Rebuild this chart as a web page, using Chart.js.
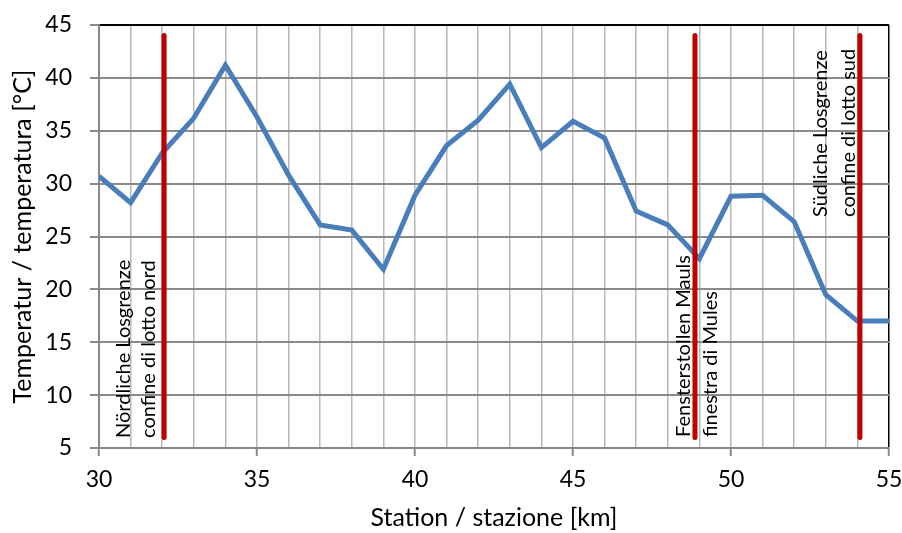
<!DOCTYPE html>
<html>
<head>
<meta charset="utf-8">
<script src="https://cdn.jsdelivr.net/npm/chart.js@4"></script>
<style>
  html, body { margin: 0; padding: 0; background: #fff; }
  #wrap { width: 902px; height: 533px; }
</style>
</head>
<body>
<div id="wrap"><canvas id="myChart" width="902" height="533"></canvas></div>
<script>
// station [km] and temperature [°C]
var stations = [30, 31, 32, 33, 34, 35, 36, 37, 38, 39, 40, 41, 42, 43, 44, 45, 46, 47, 48, 49, 50, 51, 52, 53, 54, 55, 56];
var temps = [30.7, 28.2, 32.9, 36.2, 41.2, 36.3, 30.8, 26.1, 25.6, 21.9, 28.9, 33.6, 36.0, 39.4, 33.4, 35.9, 34.3, 27.4, 26.1, 22.9, 28.8, 28.9, 26.4, 19.5, 17.0, 17.0, 5.0];

// red marker lines (km) with their labels
var markerKm = [32.06, 48.86, 54.08];
var markerFrom = 6;
var markerTo = 44;
var markerLabels = [
    ["Nördliche Losgrenze", "confine di lotto nord"],
    ["Fensterstollen Mauls", "finestra di Mules"],
    ["Südliche Losgrenze", "confine di lotto sud"]
];

var xTicks = [30, 35, 40, 45, 50, 55];
var yTicks = [5, 10, 15, 20, 25, 30, 35, 40, 45];

var FONT = 'Lato, "Liberation Sans", sans-serif';
Chart.defaults.font.family = FONT;
Chart.defaults.color = '#000';

var datasets = [];
for (var i = 0; i < markerKm.length; i++) {
    datasets.push({
        data: [{x: markerKm[i], y: markerFrom}, {x: markerKm[i], y: markerTo}],
        borderColor: '#c00000',
        borderWidth: 5,
        borderCapStyle: 'round',
        pointRadius: 0,
        order: 0
    });
}
datasets.push({
    data: stations.map(function (s, i) { return {x: s, y: temps[i]}; }),
    borderColor: '#4a7ebb',
    borderWidth: 5,
    borderJoinStyle: 'miter',
    pointRadius: 0,
    tension: 0,
    clip: {left: 0, top: 3, right: 3, bottom: 0},
    order: 1
});

// label offsets in px from the red line: [line1 baseline, line2 baseline], bottom value
var labelPos = [
    {dx: [-34, -9], y: 5.95},
    {dx: [-5, 22], y: 6.05},
    {dx: [-33, -5], y: 26.85}
];

var markerText = {
    id: 'markerText',
    afterDatasetsDraw: function (chart) {
        var c = chart.ctx;
        var xs = chart.scales.x, ys = chart.scales.y;
        c.save();
        c.font = '20px ' + FONT;
        c.fillStyle = '#000';
        c.textAlign = 'left';
        c.textBaseline = 'alphabetic';
        for (var i = 0; i < markerKm.length; i++) {
            var px = xs.getPixelForValue(markerKm[i]);
            var py = ys.getPixelForValue(labelPos[i].y);
            for (var j = 0; j < 2; j++) {
                c.save();
                c.translate(px + labelPos[i].dx[j], py);
                c.rotate(-Math.PI / 2);
                c.fillText(markerLabels[i][j], 0, 0);
                c.restore();
            }
        }
        c.restore();
    }
};

var ctx = document.getElementById("myChart").getContext("2d");
var myChart = new Chart(ctx, {
    type: 'line',
    data: { datasets: datasets },
    plugins: [markerText],
    options: {
        responsive: false,
        animation: false,
        events: [],
        layout: { padding: { top: 25, right: 13, left: 0, bottom: 0 } },
        plugins: { legend: { display: false }, tooltip: { enabled: false } },
        scales: {
            x: {
                type: 'linear',
                min: 30,
                max: 55,
                afterFit: function (s) {
                    s.height = 85;
                    s.paddingLeft = 0;
                    s.paddingRight = 0;
                },
                afterBuildTicks: function (s) {
                    var t = [];
                    for (var v = 30; v <= 55; v++) t.push({value: v});
                    s.ticks = t;
                },
                ticks: {
                    autoSkip: false,
                    maxRotation: 0,
                    padding: 10,
                    font: { size: 23 },
                    callback: function (v) { return xTicks.indexOf(v) >= 0 ? String(v) : ''; }
                },
                grid: {
                    color: function (c) { return c.tick && c.tick.value === 55 ? '#000' : '#b8b8b8'; },
                    lineWidth: 1.5,
                    tickLength: 8,
                    tickColor: function (c) { return c.tick && xTicks.indexOf(c.tick.value) >= 0 ? '#888' : 'rgba(0,0,0,0)'; },
                    tickWidth: 2
                },
                border: { color: '#888', width: 2 },
                title: {
                    display: true,
                    text: 'Station / stazione [km]',
                    font: { size: 25 },
                    padding: { top: 0, bottom: 0 }
                }
            },
            y: {
                min: 5,
                max: 45,
                afterFit: function (s) {
                    s.width = 99;
                    s.paddingTop = 0;
                    s.paddingBottom = 0;
                },
                afterBuildTicks: function (s) {
                    s.ticks = yTicks.map(function (v) { return {value: v}; });
                },
                ticks: { padding: 18, font: { size: 23 } },
                grid: {
                    color: function (c) { return c.tick && c.tick.value === 45 ? '#000' : '#8a8a8a'; },
                    lineWidth: 2,
                    tickLength: 9,
                    tickColor: '#8a8a8a'
                },
                border: { color: '#888', width: 2 },
                title: {
                    display: true,
                    text: 'Temperatur / temperatura [°C]',
                    font: { size: 25 },
                    padding: { top: 8, bottom: 0 }
                }
            }
        }
    }
});
</script>
</body>
</html>
